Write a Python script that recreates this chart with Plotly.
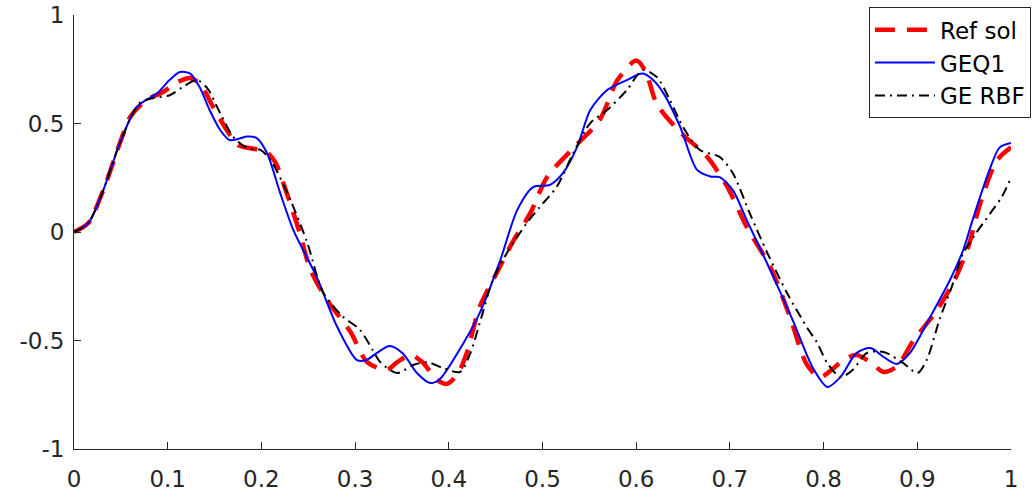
import plotly.graph_objects as go

# ---- data ----
ref_x = [0, 0.015, 0.031, 0.049, 0.06, 0.078, 0.095, 0.110, 0.124, 0.135, 0.148, 0.163, 0.175, 0.19, 0.205,
         0.215, 0.227, 0.241, 0.252, 0.27, 0.295, 0.313, 0.334, 0.345, 0.359, 0.372, 0.387, 0.398, 0.41,
         0.419, 0.433, 0.451, 0.469, 0.487, 0.505, 0.533, 0.561, 0.58, 0.60, 0.61, 0.622, 0.647, 0.675,
         0.697, 0.718, 0.743, 0.764, 0.782, 0.796, 0.81, 0.821, 0.835, 0.85, 0.864, 0.878, 0.896, 0.921,
         0.94, 0.955, 0.967, 0.985, 1.0]
ref_y = [0, 0.04, 0.19, 0.41, 0.53, 0.61, 0.645, 0.69, 0.71, 0.68, 0.58, 0.47, 0.40, 0.385, 0.37,
         0.32, 0.18, -0.005, -0.17, -0.313, -0.46, -0.60, -0.635, -0.60, -0.567, -0.60, -0.68, -0.70, -0.65,
         -0.56, -0.345, -0.19, -0.04, 0.087, 0.254, 0.387, 0.516, 0.70, 0.79, 0.74, 0.59, 0.46, 0.35,
         0.21, 0.023, -0.16, -0.39, -0.61, -0.67, -0.63, -0.59, -0.567, -0.60, -0.645, -0.62, -0.50, -0.36,
         -0.22, -0.06, 0.13, 0.33, 0.39]

geq1_x = [0, 0.015, 0.031, 0.049, 0.067, 0.089, 0.102, 0.113, 0.124, 0.134, 0.145, 0.156, 0.166, 0.176,
          0.185, 0.195, 0.206, 0.22, 0.234, 0.259, 0.281, 0.302, 0.312, 0.323, 0.337, 0.351, 0.366, 0.38,
          0.39, 0.409, 0.433, 0.455, 0.473, 0.49, 0.508, 0.522, 0.537, 0.551, 0.569, 0.59, 0.607, 0.618,
          0.629, 0.647, 0.665, 0.68, 0.689, 0.703, 0.718, 0.743, 0.767, 0.789, 0.804, 0.818, 0.835, 0.85,
          0.864, 0.878, 0.892, 0.914, 0.935, 0.949, 0.959, 0.977, 0.988, 1.0]
geq1_y = [0, 0.04, 0.19, 0.41, 0.576, 0.64, 0.70, 0.737, 0.73, 0.668, 0.56, 0.47, 0.424, 0.43,
          0.44, 0.433, 0.364, 0.18, 0.01, -0.207, -0.438, -0.59, -0.59, -0.558, -0.525, -0.56, -0.65, -0.696,
          -0.68, -0.56, -0.373, -0.129, 0.101, 0.207, 0.217, 0.272, 0.392, 0.562, 0.654, 0.70, 0.73, 0.70,
          0.64, 0.484, 0.286, 0.255, 0.253, 0.194, 0.055, -0.175, -0.406, -0.63, -0.714, -0.668, -0.558, -0.535,
          -0.576, -0.608, -0.558, -0.39, -0.22, -0.083, 0.055, 0.286, 0.39, 0.41]

rbf_x = [0, 0.015, 0.031, 0.049, 0.07, 0.084, 0.102, 0.116, 0.131, 0.142, 0.156, 0.17, 0.185, 0.199,
         0.21, 0.231, 0.249, 0.266, 0.287, 0.305, 0.319, 0.327, 0.345, 0.362, 0.377, 0.394, 0.412, 0.423,
         0.433, 0.447, 0.462, 0.483, 0.497, 0.515, 0.533, 0.551, 0.569, 0.59, 0.607, 0.622, 0.636, 0.65,
         0.668, 0.689, 0.703, 0.721, 0.74, 0.761, 0.782, 0.793, 0.804, 0.818, 0.831, 0.846, 0.864, 0.885,
         0.9, 0.91, 0.924, 0.937, 0.949, 0.962, 0.978, 0.99, 1.0]
rbf_y = [0, 0.04, 0.19, 0.41, 0.594, 0.617, 0.63, 0.668, 0.70, 0.664, 0.548, 0.438, 0.387, 0.378,
         0.33, 0.147, -0.05, -0.28, -0.39, -0.45, -0.545, -0.60, -0.65, -0.613, -0.60, -0.627, -0.645, -0.558,
         -0.42, -0.22, -0.097, 0.04, 0.115, 0.207, 0.364, 0.502, 0.562, 0.654, 0.746, 0.714, 0.608, 0.484,
         0.378, 0.346, 0.272, 0.088, -0.097, -0.281, -0.438, -0.51, -0.604, -0.668, -0.636, -0.558, -0.553, -0.604,
         -0.65, -0.59, -0.40, -0.25, -0.098, -0.01, 0.087, 0.16, 0.25]

series_names = ["Ref sol", "GEQ1", "GE RBF"]
x_ticks = [0, 0.1, 0.2, 0.3, 0.4, 0.5, 0.6, 0.7, 0.8, 0.9, 1]
x_tick_text = ["0", "0.1", "0.2", "0.3", "0.4", "0.5", "0.6", "0.7", "0.8", "0.9", "1"]
y_ticks = [-1, -0.5, 0, 0.5, 1]
y_tick_text = ["-1", "-0.5", "0", "0.5", "1"]

FONT = "DejaVu Sans"
AX = "#262626"

fig = go.Figure()
fig.add_trace(go.Scatter(x=ref_x, y=ref_y, mode="lines", name=series_names[0],
                         line=dict(color="#FF0000", width=4.5, dash="20px,12px", shape="spline", smoothing=0.8)))
fig.add_trace(go.Scatter(x=geq1_x, y=geq1_y, mode="lines", name=series_names[1],
                         line=dict(color="#0000FF", width=2, shape="spline", smoothing=0.8)))
fig.add_trace(go.Scatter(x=rbf_x, y=rbf_y, mode="lines", name=series_names[2],
                         line=dict(color="#000000", width=2, dash="10px,5px,2px,5px", shape="spline", smoothing=0.8)))

axis_common = dict(showline=True, linecolor=AX, linewidth=1, ticks="inside", ticklen=7, tickcolor=AX,
                   showgrid=False, zeroline=False, automargin=False,
                   tickfont=dict(family=FONT, size=23, color=AX))

fig.update_layout(
    width=1032, height=497,
    margin=dict(l=74, r=21, t=15, b=48, autoexpand=False),
    paper_bgcolor="white", plot_bgcolor="white",
    xaxis=dict(range=[0, 1], tickvals=x_ticks, ticktext=x_tick_text, ticklabelstandoff=9, **axis_common),
    yaxis=dict(range=[-1, 1], tickvals=y_ticks, ticktext=y_tick_text, ticklabelstandoff=4, **axis_common),
    legend=dict(x=1.0213, xanchor="right", y=1.018, yanchor="top", bgcolor="white",
                bordercolor=AX, borderwidth=1, font=dict(family=FONT, size=23, color="#000000"),
                itemwidth=60, tracegroupgap=0),
    showlegend=True,
)

fig.write_html("out.html")
